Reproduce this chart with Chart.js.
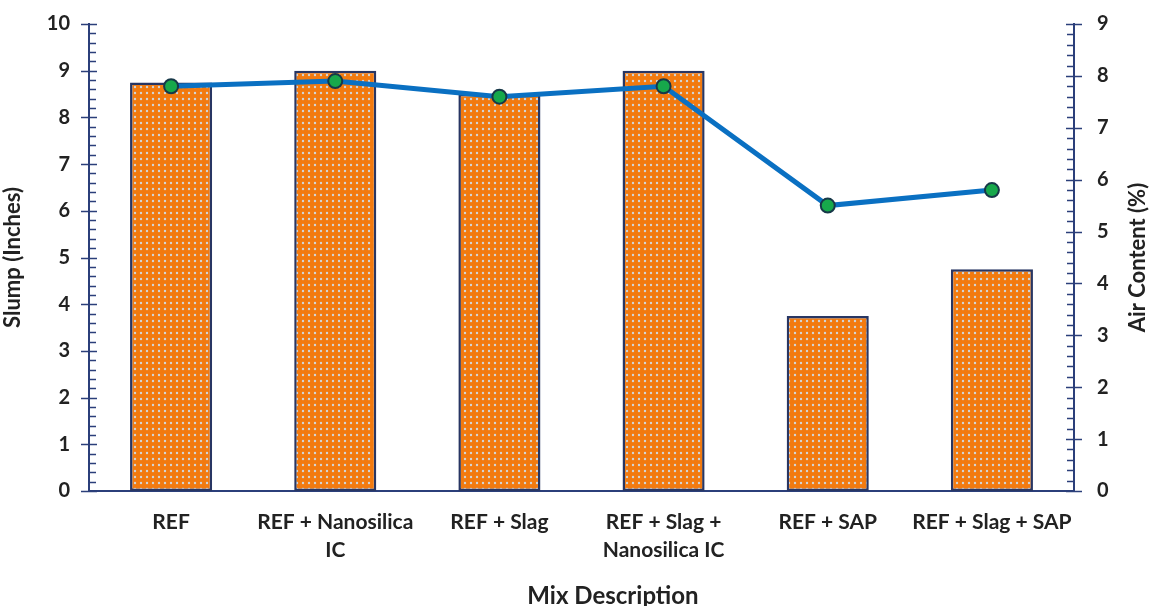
<!DOCTYPE html>
<html>
<head>
<meta charset="utf-8">
<script src="https://cdn.jsdelivr.net/npm/chart.js@4.4.0/dist/chart.umd.min.js"></script>
<style>
  body { margin: 0; background: #fff; }
  #wrap { width: 1152px; height: 606px; }
</style>
</head>
<body>
<div id="wrap"><canvas id="chart" width="1152" height="606"></canvas></div>
<script>
// mixes and measured values
const mixes = [
    "REF",
    ["REF + Nanosilica", "IC"],
    "REF + Slag",
    ["REF + Slag +", "Nanosilica IC"],
    "REF + SAP",
    "REF + Slag + SAP"
];
const slump = [8.75, 9.0, 8.5, 9.0, 3.75, 4.75];       // inches
const airContent = [7.8, 7.9, 7.6, 7.8, 5.5, 5.8];     // %

const AXIS_COLOR = "#2B3F7A";
const TEXT_COLOR = "#222222";
const FONT = "Lato, 'Open Sans', sans-serif";

// dotted orange fill for the bars
function makeDotPattern() {
    const c = document.createElement("canvas");
    c.width = 6;
    c.height = 6;
    const g = c.getContext("2d");
    g.fillStyle = "#F27A0F";
    g.fillRect(0, 0, 6, 6);
    g.fillStyle = "#D2D6D8";
    g.beginPath();
    g.arc(3, 3, 1.2, 0, Math.PI * 2);
    g.fill();
    return g.createPattern(c, "repeat");
}

// major ticks cross the axis, minor ticks sit inside the plot
const axisTicks = {
    id: "axisTicks",
    afterDraw(chart) {
        const ctx = chart.ctx;
        ctx.save();
        ctx.strokeStyle = AXIS_COLOR;
        ctx.lineWidth = 1.5;
        [["y", 1], ["y1", -1]].forEach(([id, dir]) => {
            const s = chart.scales[id];
            const x = id === "y" ? s.right : s.left;
            for (let i = 0; i <= s.max * 5; i++) {
                const py = Math.round(s.getPixelForValue(i / 5)) + 0.5;
                ctx.beginPath();
                if (i % 5 === 0) {
                    ctx.moveTo(x - 8, py);
                    ctx.lineTo(x + 8, py);
                } else {
                    ctx.moveTo(x, py);
                    ctx.lineTo(x + 7 * dir, py);
                }
                ctx.stroke();
            }
        });
        ctx.fillStyle = TEXT_COLOR;
        ctx.textAlign = "center";
        ctx.textBaseline = "middle";
        // x axis title
        ctx.font = "bold 24px " + FONT;
        ctx.fillText("Mix Description", 613, 596);
        // right axis title reads bottom-to-top
        const r = chart.scales.y1;
        ctx.font = "bold 22px " + FONT;
        ctx.translate(1138, (r.top + r.bottom) / 2);
        ctx.rotate(-Math.PI / 2);
        ctx.fillText("Air Content (%)", 0, 0);
        ctx.restore();
    }
};

// keep the tick label padding from pushing the plot down
function fitY(width) {
    return s => {
        s.width = width;
        s.paddingTop = 0;
        s.paddingBottom = 0;
    };
}

const ctx = document.getElementById("chart").getContext("2d");
new Chart(ctx, {
    data: {
        labels: mixes,
        datasets: [
            {
                type: "line",
                label: "Air Content",
                data: airContent,
                yAxisID: "y1",
                order: 1,
                borderColor: "#0A70C2",
                borderWidth: 5,
                pointRadius: 7,
                pointBackgroundColor: "#17A84B",
                pointBorderColor: "#173848",
                pointBorderWidth: 2,
                tension: 0
            },
            {
                type: "bar",
                label: "Slump",
                data: slump,
                yAxisID: "y",
                order: 2,
                backgroundColor: makeDotPattern(),
                borderColor: "#283663",
                borderWidth: 2.5,
                borderSkipped: false,
                categoryPercentage: 1,
                barPercentage: 0.5
            }
        ]
    },
    options: {
        responsive: false,
        animation: false,
        layout: { padding: { top: 24, left: 0, right: 0, bottom: 0 } },
        plugins: {
            legend: { display: false },
            tooltip: { enabled: false }
        },
        scales: {
            x: {
                grid: { display: false, drawTicks: false },
                border: { display: true, color: AXIS_COLOR, width: 2 },
                ticks: {
                    color: TEXT_COLOR,
                    font: { family: FONT, size: 21, weight: "bold", lineHeight: 1.33 },
                    padding: 17,
                    maxRotation: 0,
                    autoSkip: false
                },
                afterFit(s) { s.height = 115; }
            },
            y: {
                position: "left",
                min: 0,
                max: 10,
                grid: { display: false, drawTicks: false },
                border: { display: true, color: AXIS_COLOR, width: 2 },
                ticks: {
                    stepSize: 1,
                    color: TEXT_COLOR,
                    font: { family: FONT, size: 20, weight: "bold" },
                    padding: 19
                },
                title: {
                    display: true,
                    text: "Slump (Inches)",
                    color: TEXT_COLOR,
                    font: { family: FONT, size: 22, weight: "bold", lineHeight: 1.2 },
                    padding: { top: 0, bottom: 0 }
                },
                afterFit: fitY(89)
            },
            y1: {
                position: "right",
                min: 0,
                max: 9,
                grid: { display: false, drawTicks: false },
                border: { display: true, color: AXIS_COLOR, width: 2 },
                ticks: {
                    stepSize: 1,
                    color: TEXT_COLOR,
                    font: { family: FONT, size: 20, weight: "bold" },
                    padding: 23
                },
                afterFit: fitY(78)
            }
        }
    },
    plugins: [axisTicks]
});
</script>
</body>
</html>
